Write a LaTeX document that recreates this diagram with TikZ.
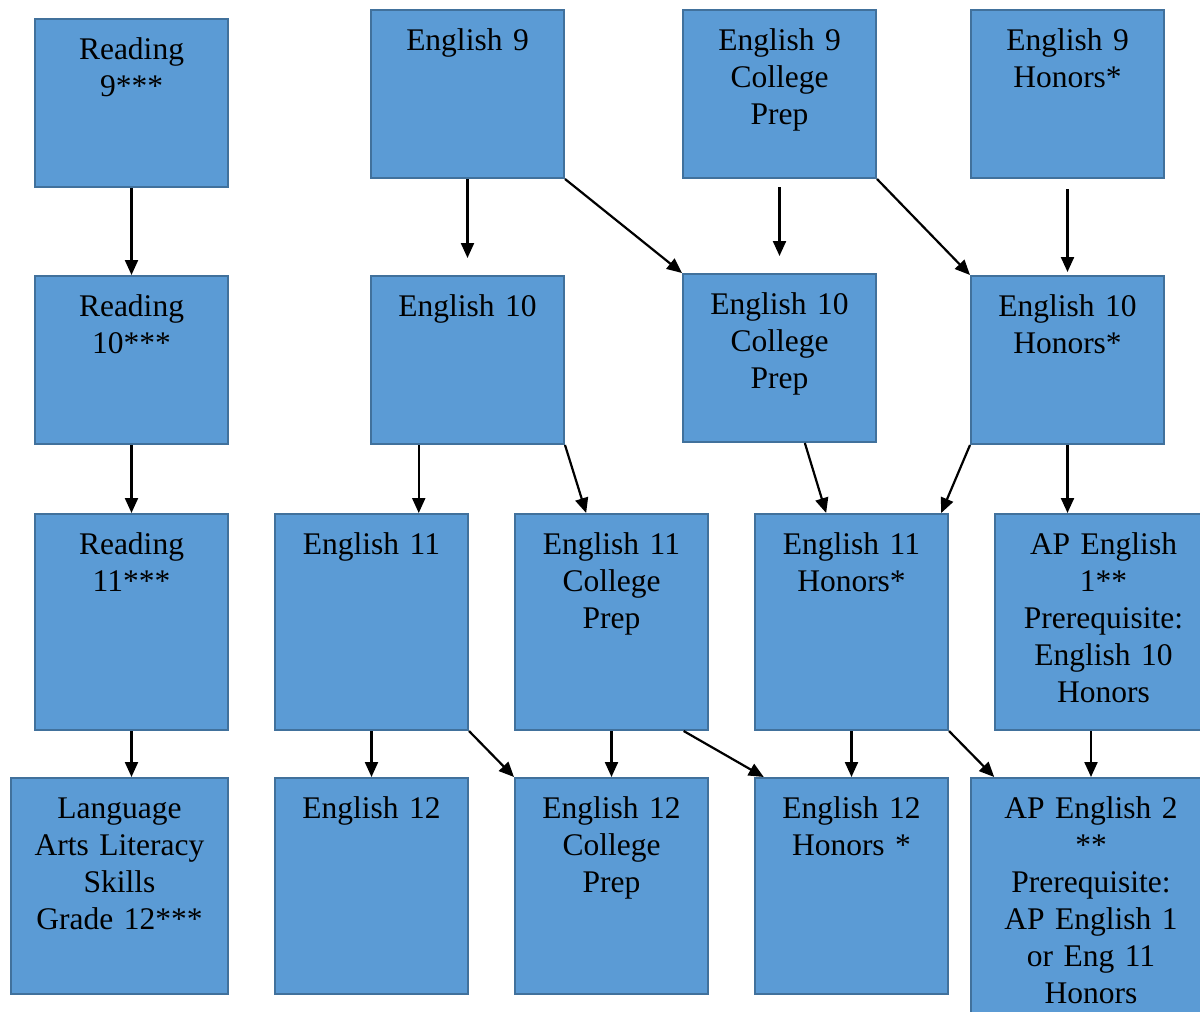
\documentclass[tikz,border=0pt]{standalone}
\usepackage{fontspec}
\setmainfont{Liberation Serif}
\usetikzlibrary{arrows.meta,calc}
\definecolor{boxfill}{HTML}{5B9BD5}
\definecolor{boxline}{HTML}{41719C}
\tikzset{
    course/.style={draw=boxline, fill=boxfill, line width=2pt, inner sep=0pt, anchor=north west,
        text width=193pt, align=center, text height=40pt, text depth=128pt,
        font=\fontsize{31.5}{37}\selectfont},
    tall/.style={text depth=176pt},
    flow/.style={line width=2.2pt, -{Triangle[length=15pt,width=13pt]}}
}
\begin{document}
\begin{tikzpicture}[x=1pt,y=-1pt]
            \clip (0,0) rectangle (1200,1012);

            % reading track
            \node[course] (r9) at (34,18) {Reading\\9***};
            \node[course] (r10) at (34,275) {Reading\\10***};
            \node[course,tall] (r11) at (34,513) {Reading\\11***};
            \node[course,tall,text width=217pt] (lal) at (10,777) {Language\\Arts Literacy\\Skills\\Grade 12***};

            \node[course] (e9) at (370,9) {English 9};
            \node[course] (e9cp) at (682,9) {English 9\\College\\Prep};
            \node[course] (e9h) at (970,9) {English 9\\Honors*};

            \node[course] (e10) at (370,275) {English 10};
            \node[course] (e10cp) at (682,273) {English 10\\College\\Prep};
            \node[course] (e10h) at (970,275) {English 10\\Honors*};

            \node[course,tall] (e11) at (274,513) {English 11};
            \node[course,tall] (e11cp) at (514,513) {English 11\\College\\Prep};
            \node[course,tall] (e11h) at (754,513) {English 11\\Honors*};
            \node[course,tall,text width=217pt] (ap1) at (994,513) {AP English\\1**\\Prerequisite:\\English 10\\Honors};

            \node[course,tall] (e12) at (274,777) {English 12};
            \node[course,tall] (e12cp) at (514,777) {English 12\\College\\Prep};
            \node[course,tall] (e12h) at (754,777) {English 12\\Honors *};
            \node[course,tall,text width=240pt,text depth=230pt] (ap2) at (970,777) {AP English 2\\{}**\\Prerequisite:\\AP English 1\\or Eng 11\\Honors};

            \draw[flow] (r9) -- (r10);
            \draw[flow] (r10) -- (r11);
            \draw[flow] (r11.south) -- (r11.south |- lal.north);

            \draw[flow,shorten >=17pt] (e9.south) -- (e10.north);
            \draw[flow] (e9.south east) -- (e10cp.north west);
            \draw[flow,shorten <=8pt,shorten >=17pt] (e9cp.south) -- (e9cp.south |- e10cp.north);
            \draw[flow] (e9cp.south east) -- (e10h.north west);
            \draw[flow,shorten <=10pt,shorten >=3pt] (e9h.south) -- (e10h.north);

            \draw[flow] ($(e10.south west)!0.25!(e10.south east)$) coordinate (p) -- (p |- e11.north);
            \draw[flow] (e10.south east) -- ($(e11cp.north west)!0.37!(e11cp.north east)$);
            \draw[flow] ($(e10cp.south west)!0.63!(e10cp.south east)$) -- ($(e11h.north west)!0.37!(e11h.north east)$);
            \draw[flow] (e10h.south west) -- ($(e11h.north west)!0.96!(e11h.north east)$);
            \draw[flow] (e10h.south) -- (e10h.south |- ap1.north);

            \draw[flow] (e11) -- (e12);
            \draw[flow] (e11.south east) -- (e12cp.north west);
            \draw[flow] (e11cp) -- (e12cp);
            \draw[flow] ($(e11cp.south west)!0.87!(e11cp.south east)$) -- ($(e12h.north west)!0.05!(e12h.north east)$);
            \draw[flow] (e11h) -- (e12h);
            \draw[flow] (e11h.south east) -- ($(ap2.north west)!0.1!(ap2.north east)$);
            \draw[flow] (ap2.north |- ap1.south) -- (ap2.north);
\end{tikzpicture}
\end{document}
